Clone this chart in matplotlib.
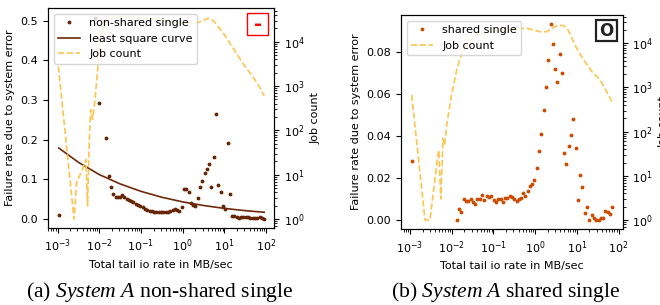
import numpy as np
import matplotlib
matplotlib.use("Agg")
import matplotlib.pyplot as plt
from matplotlib.patches import Rectangle

plt.rcParams['font.size'] = 8
plt.rcParams['mathtext.fontset'] = 'custom'
plt.rcParams['mathtext.rm'] = 'Liberation Serif'
plt.rcParams['mathtext.it'] = 'Liberation Serif:italic'

# ---- (a) non-shared single: log10 of rate (MB/sec) and failure rate
ns_lograte = [-2.97, -2.10, -2.00, -1.83, -1.77, -1.72, -1.665, -1.61, -1.555, -1.50,
              -1.455, -1.40, -1.345, -1.29, -1.235, -1.18, -1.125, -1.07, -1.015, -0.96,
              -0.905, -0.85, -0.795, -0.74, -0.685, -0.63, -0.575, -0.52, -0.465, -0.41,
              -0.355, -0.30, -0.245, -0.19, -0.135, -0.08, -0.025, 0.03, 0.085, 0.143,
              0.198, 0.253, 0.30, 0.358, 0.413, 0.468, 0.526, 0.581, 0.636, 0.684,
              0.748, 0.796, 0.851, 0.909, 0.964, 1.019, 1.077, 1.125, 1.18, 1.235,
              1.29, 1.345, 1.40, 1.455, 1.51, 1.565, 1.62, 1.675, 1.73, 1.785,
              1.84, 1.895, 1.95]
ns_fail = [0.009, 0.506, 0.293, 0.205, 0.108, 0.080, 0.064, 0.055, 0.055, 0.056,
           0.060, 0.055, 0.051, 0.049, 0.045, 0.042, 0.039, 0.036, 0.033, 0.030,
           0.026, 0.023, 0.021, 0.019, 0.018, 0.018, 0.017, 0.017, 0.017, 0.018,
           0.018, 0.021, 0.023, 0.024, 0.023, 0.020, 0.030, 0.076, 0.076, 0.067,
           0.040, 0.035, 0.032, 0.053, 0.081, 0.096, 0.115, 0.127, 0.139, 0.080,
           0.157, 0.264, 0.085, 0.069, 0.032, 0.026, 0.192, 0.064, 0.0076, 0.0076,
           0.005, 0.0033, 0.0043, 0.0058, 0.005, 0.0043, 0.0033, 0.0025, 0.0025, 0.0025,
           0.005, 0.0025, 0.0008]
# least square curve, read at a few rates
fit_lograte = [-2.97, -2.5, -2.0, -1.5, -1.0, -0.5, 0.0, 0.5, 1.0, 1.5, 1.95]
fit_fail = [0.179, 0.143, 0.112, 0.0885, 0.0697, 0.0548, 0.0431, 0.034, 0.0267, 0.021, 0.017]
# job count
ns_job_lograte = [-2.98, -2.605, -2.54, -2.42, -2.32, -2.28, -2.24, -2.205, -2.16, -2.10,
                  -2.02, -1.94, -1.82, -1.62, -1.19, -0.62, -0.15, 0.33, 0.61, 0.73,
                  0.97, 1.21, 1.45, 1.69, 1.85, 1.95]
ns_jobs = [2800, 1, 7, 12, 22, 2, 56, 295, 178, 500,
           3980, 16200, 29500, 35500, 35500, 32400, 27500, 26300, 33900, 30200,
           15800, 7080, 3160, 1580, 912, 603]

# ---- (b) shared single
sh_lograte = [-2.96, -1.873, -1.82, -1.77, -1.71, -1.66, -1.60, -1.545, -1.49, -1.44,
              -1.386, -1.33, -1.27, -1.22, -1.16, -1.105, -1.05, -0.993, -0.94, -0.88,
              -0.825, -0.78, -0.72, -0.667, -0.61, -0.554, -0.50, -0.44, -0.386, -0.338,
              -0.28, -0.235, -0.178, -0.12, -0.067, -0.02, 0.038, 0.093, 0.149, 0.206,
              0.261, 0.317, 0.374, 0.422, 0.477, 0.532, 0.59, 0.645, 0.70, 0.748,
              0.806, 0.86, 0.916, 0.974, 1.03, 1.084, 1.132, 1.19, 1.245, 1.30,
              1.357, 1.41, 1.467, 1.525, 1.573, 1.628, 1.683, 1.74, 1.796, 1.85]
sh_fail = [0.0282, 0.0, 0.0054, 0.0038, 0.0101, 0.0090, 0.0090, 0.0101, 0.0086, 0.0076,
           0.0098, 0.0098, 0.0117, 0.0094, 0.0113, 0.0108, 0.0114, 0.0094, 0.0087, 0.0098,
           0.0098, 0.0084, 0.0105, 0.0105, 0.0114, 0.0108, 0.0101, 0.0092, 0.0101, 0.0105,
           0.0127, 0.0114, 0.0138, 0.0162, 0.0170, 0.0192, 0.0246, 0.0327, 0.041, 0.0525,
           0.0633, 0.0762, 0.0932, 0.084, 0.0719, 0.0657, 0.0792, 0.070, 0.0319, 0.0267,
           0.0354, 0.0406, 0.0481, 0.0341, 0.0095, 0.0213, 0.0159, 0.0035, 0.006, 0.0,
           0.0022, 0.001, 0.0, 0.0, 0.001, 0.001, 0.0041, 0.004, 0.0027, 0.0063]
sh_job_lograte = [-2.96, -2.64, -2.52, -2.34, -2.31, -2.26, -2.21, -2.17, -2.12, -2.0,
                  -1.88, -1.75, -1.60, -1.35, -0.9, -0.5, -0.2, 0.12, 0.28, 0.40,
                  0.55, 0.68, 0.78, 0.88, 0.98, 1.1, 1.2, 1.36, 1.56, 1.72, 1.84]
sh_jobs = [676, 1, 1, 26, 38, 3, 71, 50, 141, 708,
           2510, 6310, 11200, 15800, 19100, 21400, 21900, 18200, 18200, 21900,
           25700, 25100, 20900, 13200, 8320, 5250, 3800, 2290, 1480, 794, 479]

job_color = '#fec44f'

fig = plt.figure(figsize=(6.6, 3.05), dpi=100)


def panel(rect, xlim, ylim, y2lim, rate, fail, color, label, jrate, jobs, mark, mark_color,
          mark_lw, fit=None):
    ax = fig.add_axes(rect)
    h1, = ax.plot(10 ** np.array(rate), fail, '.', color=color, markersize=3.5, label=label)
    handles = [h1]
    if fit is not None:
        h_fit, = ax.plot(10 ** np.array(fit[0]), fit[1], '-', color='#6e2a0a', lw=1.2,
                         label='least square curve')
        handles.append(h_fit)
    ax.set_xscale('log')
    ax.set_xlim(*xlim)
    ax.set_ylim(*ylim)
    ax.set_xlabel('Total tail io rate in MB/sec')
    ax.set_ylabel('Failure rate due to system error')
    ax2 = ax.twinx()
    h_job, = ax2.plot(10 ** np.array(jrate), jobs, '--', color=job_color, lw=1.2, label='Job count')
    handles.append(h_job)
    ax2.set_yscale('log')
    ax2.set_ylim(*y2lim)
    ax2.set_ylabel('Job count')
    ax2.legend(handles=handles, loc='upper left')
    ax2.add_patch(Rectangle((0.88, 0.877), 0.093, 0.1, transform=ax2.transAxes,
                            facecolor='white', edgecolor=mark_color, lw=mark_lw, zorder=5))
    ax2.text(0.927, 0.927, mark, transform=ax2.transAxes, ha='center', va='center',
             color=mark_color, fontsize=12 if mark == 'O' else 14, fontweight='bold', zorder=6)
    return ax


panel([48 / 660, 77 / 305, 226 / 660, 220 / 305],
      (10 ** -3.228, 10 ** 2.186), (-0.0227, 0.532), (10 ** -0.203, 10 ** 4.763),
      ns_lograte, ns_fail, '#662506', 'non-shared single', ns_job_lograte, ns_jobs,
      '-', 'red', 1.0, fit=(fit_lograte, fit_fail))

panel([401 / 660, 75.7 / 305, 221.7 / 660, 214.3 / 305],
      (10 ** -3.216, 10 ** 2.10), (-0.0044, 0.0976), (10 ** -0.21, 10 ** 4.64),
      sh_lograte, sh_fail, '#cc4c02', 'shared single', sh_job_lograte, sh_jobs,
      'O', '#222222', 1.6)

fig.text(159.5 / 660, 0.027, r'(a) $\mathit{System\ A}$ non-shared single',
         family='Liberation Serif', fontsize=15.6, ha='center', va='baseline')
fig.text(506 / 660, 0.027, r'(b) $\mathit{System\ A}$ shared single',
         family='Liberation Serif', fontsize=15.6, ha='center', va='baseline')

fig.savefig('out.png', dpi=100)
